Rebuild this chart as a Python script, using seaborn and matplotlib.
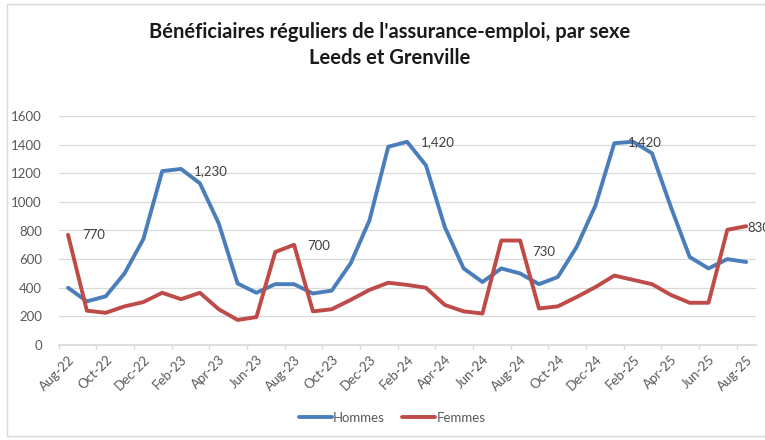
"""Bénéficiaires réguliers de l'assurance-emploi, par sexe - Leeds et Grenville."""

import matplotlib

matplotlib.use("Agg")
import matplotlib.pyplot as plt
import pandas as pd
import seaborn as sns
from matplotlib.patches import Rectangle

MONTHS = [
    "Aug-22", "Sep-22", "Oct-22", "Nov-22", "Dec-22", "Jan-23", "Feb-23", "Mar-23",
    "Apr-23", "May-23", "Jun-23", "Jul-23", "Aug-23", "Sep-23", "Oct-23", "Nov-23",
    "Dec-23", "Jan-24", "Feb-24", "Mar-24", "Apr-24", "May-24", "Jun-24", "Jul-24",
    "Aug-24", "Sep-24", "Oct-24", "Nov-24", "Dec-24", "Jan-25", "Feb-25", "Mar-25",
    "Apr-25", "May-25", "Jun-25", "Jul-25", "Aug-25",
]
HOMMES = [
    400, 305, 340, 500, 740, 1215, 1230, 1130, 850, 430, 365, 425, 425, 360, 380, 570,
    870, 1385, 1420, 1255, 825, 535, 440, 535, 500, 425, 475, 685, 975, 1410, 1420, 1340,
    965, 615, 535, 600, 580,
]
FEMMES = [
    770, 240, 225, 270, 300, 365, 320, 365, 250, 175, 195, 650, 700, 235, 250, 315,
    385, 435, 420, 400, 280, 235, 220, 730, 730, 255, 270, 335, 405, 485, 455, 425,
    350, 295, 295, 805, 830,
]
SERIES = ["Hommes", "Femmes"]
# (series, month) pairs that carry a data label
LABELLED = [
    ("Femmes", "Aug-22"), ("Hommes", "Feb-23"), ("Femmes", "Aug-23"), ("Hommes", "Feb-24"),
    ("Femmes", "Aug-24"), ("Hommes", "Feb-25"), ("Femmes", "Aug-25"),
]
TITLE = "Bénéficiaires réguliers de l'assurance-emploi, par sexe\nLeeds et Grenville"

# pixel offsets of each data label from its point
LABEL_OFFSETS = [(14, 0), (13, -2), (13, -1), (14, 0), (12, -11), (-5, 0), (1, -2)]

COLORS = {"Hommes": "#4A7EBB", "Femmes": "#BE4B48"}
INK = "#595959"
GRID = "#D9D9D9"
W, H = 765, 440

sns.set_theme(style="white")
plt.rcParams["font.family"] = ["Lato", "DejaVu Sans"]

df = pd.DataFrame(
    {
        "idx": list(range(len(MONTHS))) * 2,
        "month": MONTHS * 2,
        "value": HOMMES + FEMMES,
        "Sexe": ["Hommes"] * len(HOMMES) + ["Femmes"] * len(FEMMES),
    }
)

fig = plt.figure(figsize=(W / 100, H / 100), dpi=100)
ax = fig.add_axes([58.6 / W, 1 - 345 / H, (755.6 - 58.6) / W, (345 - 116) / H])

sns.lineplot(
    data=df, x="idx", y="value", hue="Sexe", hue_order=SERIES,
    palette=COLORS, linewidth=2.8, ax=ax, legend=True,
)

ax.set_xlim(-0.5, len(MONTHS) - 0.5)
ax.set_ylim(0, 1600)
ax.set_yticks(range(0, 1601, 200))
ax.yaxis.grid(True, color=GRID, linewidth=0.9)
ax.set_axisbelow(True)
ax.set_xticks(range(0, len(MONTHS), 2))
ax.set_xticklabels(MONTHS[::2], rotation=45, ha="right", rotation_mode="anchor")
ax.set_xticks([i - 0.5 for i in range(0, len(MONTHS) + 1, 2)], minor=True)
ax.tick_params(axis="x", which="major", length=0, pad=6, labelsize=9.5, labelcolor=INK)
ax.tick_params(axis="x", which="minor", length=3, color=GRID, bottom=True)
ax.tick_params(axis="y", length=0, pad=12, labelsize=9.5, labelcolor=INK)
ax.set_xlabel("")
ax.set_ylabel("")
for side in ["top", "right", "left"]:
    ax.spines[side].set_visible(False)
ax.spines["bottom"].set_color(GRID)

values = {"Hommes": HOMMES, "Femmes": FEMMES}
for (series, month), (dx, dy) in zip(LABELLED, LABEL_OFFSETS):
    i = MONTHS.index(month)
    v = values[series][i]
    ax.annotate(
        f"{v:,}", xy=(i, v), xytext=(dx, dy), textcoords="offset pixels",
        ha="left", va="center", fontsize=9.5, color="#404040", annotation_clip=False,
    )

handles, labels = ax.get_legend_handles_labels()
ax.legend(
    handles, labels, loc="center", bbox_to_anchor=(392 / W, 1 - 418 / H),
    bbox_transform=fig.transFigure, ncol=2, frameon=False, fontsize=9.5,
    handlelength=2.5, handletextpad=0.1, columnspacing=1.3, labelcolor=INK,
)

fig.text(
    0.5 * (142 + 637) / W, 1 - 45 / H, TITLE, ha="center", va="center",
    fontsize=14.5, fontweight="bold", color="#1A1A1A", linespacing=1.35,
)

fig.patches.append(
    Rectangle((7 / W, 4 / H), 1, (436 - 4) / H, transform=fig.transFigure,
              fill=False, edgecolor=GRID, linewidth=1)
)

fig.savefig("out.png", dpi=100, facecolor="white")
